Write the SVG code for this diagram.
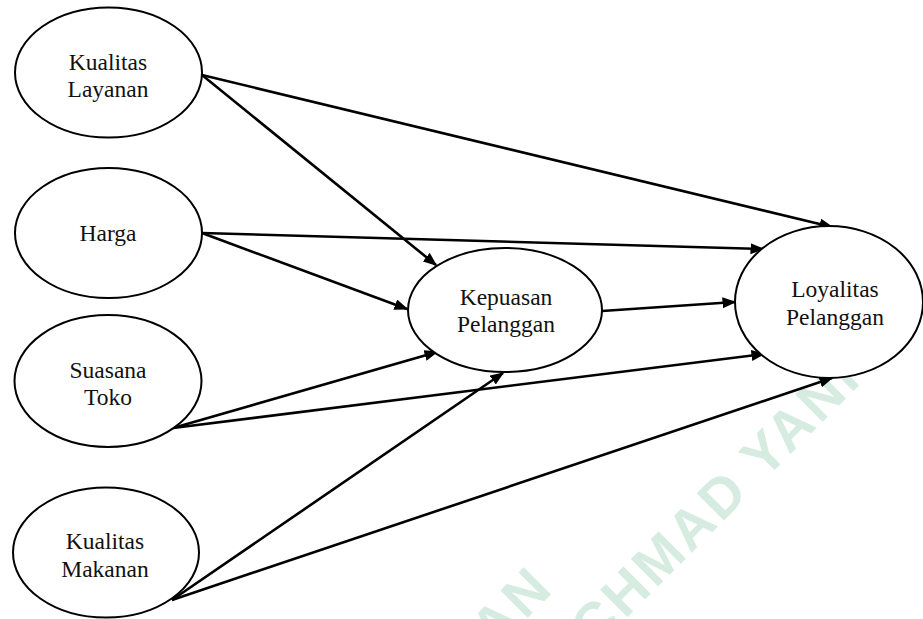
<svg xmlns="http://www.w3.org/2000/svg" width="923" height="619" viewBox="0 0 923 619">
<style>
.node ellipse{fill:#fff;stroke:#000;stroke-width:2}
.node text{font-family:"Liberation Serif","Times New Roman",serif;font-size:23.5px;fill:#111;text-anchor:middle}
.conn line{stroke:#000;stroke-width:2.6;marker-end:url(#arr)}
.wm{font-family:"Liberation Sans",Arial,sans-serif;font-weight:bold;font-size:56px;fill:#d6ece0;letter-spacing:3px}
</style>
<defs>
<marker id="arr" markerUnits="userSpaceOnUse" markerWidth="14" markerHeight="12" refX="12.5" refY="5.5" orient="auto">
<path d="M0,0 L14,5.5 L0,11 z" fill="#000"/>
</marker>
</defs>
<rect width="923" height="619" fill="#fff"/>
<g id="watermark" transform="rotate(-45)">
<text class="wm" x="-24" y="810" text-anchor="end">AN</text>
<text class="wm" x="-40" y="880">CHMAD YANI</text>
</g>
<g id="connectors" class="conn">
<line x1="202" y1="75" x2="832" y2="227"/>
<line x1="202" y1="75" x2="436" y2="265"/>
<line x1="202" y1="233" x2="763" y2="249"/>
<line x1="202" y1="233" x2="407" y2="309"/>
<line x1="173" y1="428" x2="437" y2="352"/>
<line x1="173" y1="428" x2="764" y2="354"/>
<line x1="172" y1="600" x2="503" y2="373"/>
<line x1="172" y1="600" x2="832" y2="378"/>
<line x1="602" y1="311" x2="735" y2="302"/>
</g>
<g id="kualitas-layanan" class="node">
<ellipse cx="108.5" cy="72.5" rx="93.5" ry="65"/>
<text x="108" y="70">Kualitas</text>
<text x="108" y="97">Layanan</text>
</g>
<g id="harga" class="node">
<ellipse cx="108.5" cy="233" rx="93.5" ry="65"/>
<text x="108" y="241">Harga</text>
</g>
<g id="suasana-toko" class="node">
<ellipse cx="108" cy="381" rx="93.5" ry="66"/>
<text x="108" y="378">Suasana</text>
<text x="108" y="405">Toko</text>
</g>
<g id="kualitas-makanan" class="node">
<ellipse cx="106" cy="552.5" rx="93" ry="65"/>
<text x="105" y="549">Kualitas</text>
<text x="105" y="577">Makanan</text>
</g>
<g id="kepuasan-pelanggan" class="node">
<ellipse cx="505" cy="310" rx="97" ry="62"/>
<text x="506" y="305">Kepuasan</text>
<text x="506" y="332">Pelanggan</text>
</g>
<g id="loyalitas-pelanggan" class="node">
<ellipse cx="829" cy="302" rx="94" ry="76"/>
<text x="835" y="297">Loyalitas</text>
<text x="835" y="325">Pelanggan</text>
</g>
</svg>
